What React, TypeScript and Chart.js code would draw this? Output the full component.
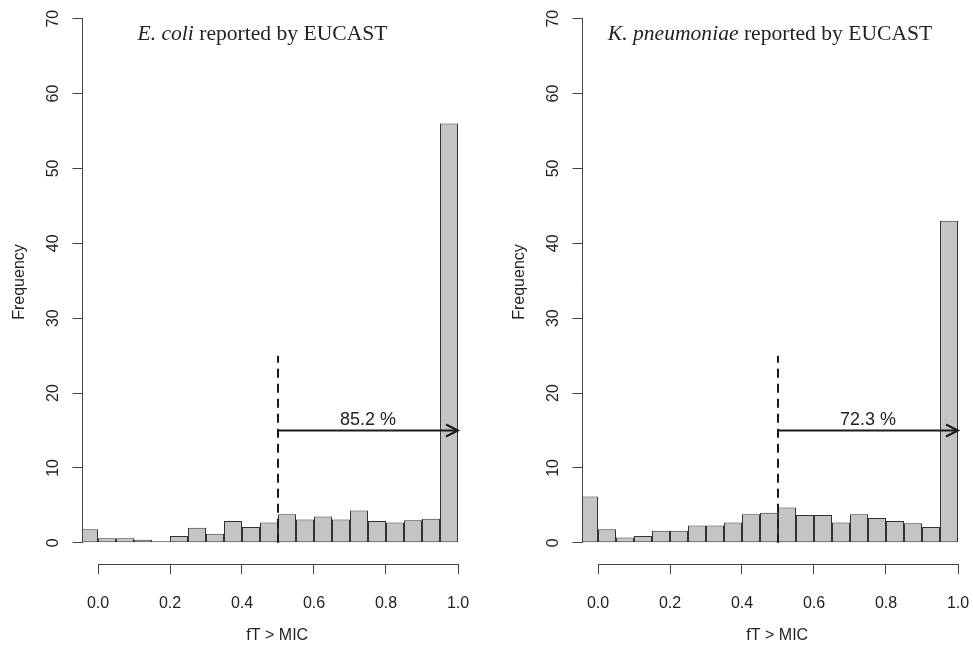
import React, { useEffect, useRef } from 'react';
import { Chart, registerables } from 'chart.js';

Chart.register(...registerables);

// ---- data ----
const binCenters = [
  -0.025, 0.025, 0.075, 0.125, 0.175, 0.225, 0.275, 0.325, 0.375, 0.425, 0.475,
  0.525, 0.575, 0.625, 0.675, 0.725, 0.775, 0.825, 0.875, 0.925, 0.975,
];
const ecoliFreq = [
  1.8, 0.6, 0.6, 0.4, 0.2, 0.9, 2.0, 1.2, 2.9, 2.1, 2.7,
  3.8, 3.1, 3.5, 3.1, 4.3, 2.9, 2.7, 3.0, 3.2, 56.0,
];
const kpnFreq = [
  6.2, 1.8, 0.7, 0.9, 1.6, 1.6, 2.3, 2.3, 2.7, 3.8, 4.0,
  4.7, 3.7, 3.7, 2.7, 3.8, 3.3, 2.9, 2.6, 2.1, 43.0,
];
const yTicks = [0, 10, 20, 30, 40, 50, 60, 70];
const xTicks = [0, 0.2, 0.4, 0.6, 0.8, 1.0];
const cutoff = 0.5;
const arrowEnd = 1.0;
const arrowLevel = 15;
const dashTop = 25;
const ecoliPct = '85.2 %';
const kpnPct = '72.3 %';
const ecoliTitle = ['E. coli', ' reported by EUCAST'];
const kpnTitle = ['K. pneumoniae', ' reported by EUCAST'];

const SANS = '"Liberation Sans", Arial, sans-serif';
const SERIF = '"Liberation Serif", "Times New Roman", serif';
const INK = '#222222';

// plot-region geometry (pixels per x unit chosen so bin edges fall on whole pixels)
const X_LEFT = 82.5;
const X_ZERO = 98;
const X_UNIT = 360;
const X_RIGHT = 472;
const X_MIN = -(X_ZERO - X_LEFT) / X_UNIT;
const X_MAX = (X_RIGHT - X_ZERO) / X_UNIT;

function align(p: number) {
  return Math.round(p - 0.5) + 0.5;
}

const panelPlugin = {
  id: 'rPanel',
  afterDraw(chart: any, _args: any, opts: any) {
    const { ctx, chartArea } = chart;
    const x = chart.scales.x;
    const y = chart.scales.y;
    ctx.save();
    // R-style axis lines spanning only the tick range
    ctx.strokeStyle = '#444444';
    ctx.lineWidth = 1;
    ctx.beginPath();
    const ax = align(chartArea.left);
    ctx.moveTo(ax, align(y.getPixelForValue(yTicks[0])));
    ctx.lineTo(ax, align(y.getPixelForValue(yTicks[yTicks.length - 1])));
    const ay = align(chartArea.bottom);
    ctx.moveTo(align(x.getPixelForValue(xTicks[0])), ay);
    ctx.lineTo(align(x.getPixelForValue(xTicks[xTicks.length - 1])), ay);
    ctx.stroke();

    // arrow head
    const tx = x.getPixelForValue(arrowEnd);
    const ty = y.getPixelForValue(arrowLevel);
    ctx.strokeStyle = '#1a1a1a';
    ctx.lineWidth = 2;
    ctx.beginPath();
    ctx.moveTo(tx - 12, ty - 6);
    ctx.lineTo(tx, ty);
    ctx.lineTo(tx - 12, ty + 6);
    ctx.stroke();

    // percentage label
    ctx.fillStyle = INK;
    ctx.font = `18px ${SANS}`;
    ctx.textAlign = 'center';
    ctx.textBaseline = 'alphabetic';
    ctx.fillText(opts.pct, x.getPixelForValue((cutoff + arrowEnd) / 2), ty - 5.5);

    // title with italic species name
    const fItal = `italic 21.6px ${SERIF}`;
    const fReg = `21.6px ${SERIF}`;
    ctx.font = fItal;
    const w1 = ctx.measureText(opts.italic).width;
    ctx.font = fReg;
    const w2 = ctx.measureText(opts.rest).width;
    const x0 = opts.titleX - (w1 + w2) / 2;
    ctx.textAlign = 'left';
    ctx.font = fItal;
    ctx.fillText(opts.italic, x0, 40);
    ctx.font = fReg;
    ctx.fillText(opts.rest, x0 + w1, 40);
    ctx.restore();
  },
};

function makeConfig(freq: number[], pct: string, title: string[], titleX: number): any {
  return {
    type: 'bar',
    data: {
      datasets: [
        {
          type: 'line',
          data: [
            { x: cutoff, y: 0 },
            { x: cutoff, y: dashTop },
          ],
          borderColor: '#1a1a1a',
          borderWidth: 2,
          borderDash: [9, 6],
          pointRadius: 0,
          fill: false,
          order: 0,
        },
        {
          type: 'line',
          data: [
            { x: cutoff, y: arrowLevel },
            { x: arrowEnd, y: arrowLevel },
          ],
          borderColor: '#1a1a1a',
          borderWidth: 2,
          pointRadius: 0,
          fill: false,
          order: 0,
        },
        {
          type: 'bar',
          data: binCenters.map((c, i) => ({ x: c, y: freq[i] })),
          backgroundColor: '#c4c4c4',
          borderColor: '#333333',
          borderWidth: 1,
          borderSkipped: false,
          inflateAmount: 0,
          barPercentage: 1,
          categoryPercentage: 1,
          grouped: false,
          order: 1,
        },
      ],
    },
    options: {
      responsive: false,
      animation: false,
      devicePixelRatio: 1,
      events: [],
      layout: { padding: { top: 0, left: 0, right: 500 - X_RIGHT, bottom: 0 } },
      plugins: {
        legend: { display: false },
        tooltip: { enabled: false },
        rPanel: { pct, italic: title[0], rest: title[1], titleX },
      },
      scales: {
        x: {
          type: 'linear',
          min: X_MIN,
          max: X_MAX,
          offset: false,
          grid: { offset: false, drawOnChartArea: false, drawTicks: true, tickLength: 10, color: '#444444', lineWidth: 1 },
          border: { display: false },
          afterBuildTicks: (s: any) => {
            s.ticks = xTicks.map((v) => ({ value: v }));
          },
          ticks: {
            autoSkip: false,
            minRotation: 0,
            maxRotation: 0,
            padding: 20,
            color: INK,
            font: { family: SANS, size: 16 },
            callback: (v: any) => Number(v).toFixed(1),
          },
          title: {
            display: true,
            text: 'fT > MIC',
            color: INK,
            font: { family: SANS, size: 16 },
            padding: { top: 0, bottom: 9 },
          },
          afterFit: (s: any) => {
            s.height = 90;
            s.paddingLeft = 0;
            s.paddingRight = 0;
          },
        },
        y: {
          type: 'linear',
          min: -2.83,
          max: 72.5,
          grid: { drawOnChartArea: false, drawTicks: true, tickLength: 10, color: '#444444', lineWidth: 1 },
          border: { display: false },
          afterBuildTicks: (s: any) => {
            s.ticks = yTicks.map((v) => ({ value: v }));
          },
          ticks: {
            autoSkip: false,
            minRotation: 90,
            maxRotation: 90,
            crossAlign: 'center',
            padding: 10.3,
            color: INK,
            font: { family: SANS, size: 16 },
            callback: (v: any) => String(v),
          },
          title: {
            display: true,
            text: 'Frequency',
            color: INK,
            font: { family: SANS, size: 16 },
            padding: { top: 9.5, bottom: 0 },
          },
          afterFit: (s: any) => {
            s.width = X_LEFT;
            s.paddingTop = 0;
            s.paddingBottom = 0;
          },
        },
      },
    },
    plugins: [panelPlugin],
  };
}

function Panel(props: { freq: number[]; pct: string; title: string[]; titleX: number; left: number }) {
  const ref = useRef<HTMLCanvasElement | null>(null);
  useEffect(() => {
    if (!ref.current) return;
    const chart = new Chart(ref.current, makeConfig(props.freq, props.pct, props.title, props.titleX));
    return () => chart.destroy();
  }, []);
  return (
    <div style={{ position: 'absolute', left: props.left, top: 0, width: 500, height: 654 }}>
      <canvas ref={ref} width={500} height={654} style={{ display: 'block' }} />
    </div>
  );
}

export default function App() {
  return (
    <div
      style={{
        position: 'absolute',
        left: 0,
        top: 0,
        width: 973,
        height: 654,
        overflow: 'hidden',
        background: '#ffffff',
      }}
    >
      <Panel freq={ecoliFreq} pct={ecoliPct} title={ecoliTitle} titleX={262.5} left={0} />
      <Panel freq={kpnFreq} pct={kpnPct} title={kpnTitle} titleX={270} left={500} />
    </div>
  );
}
